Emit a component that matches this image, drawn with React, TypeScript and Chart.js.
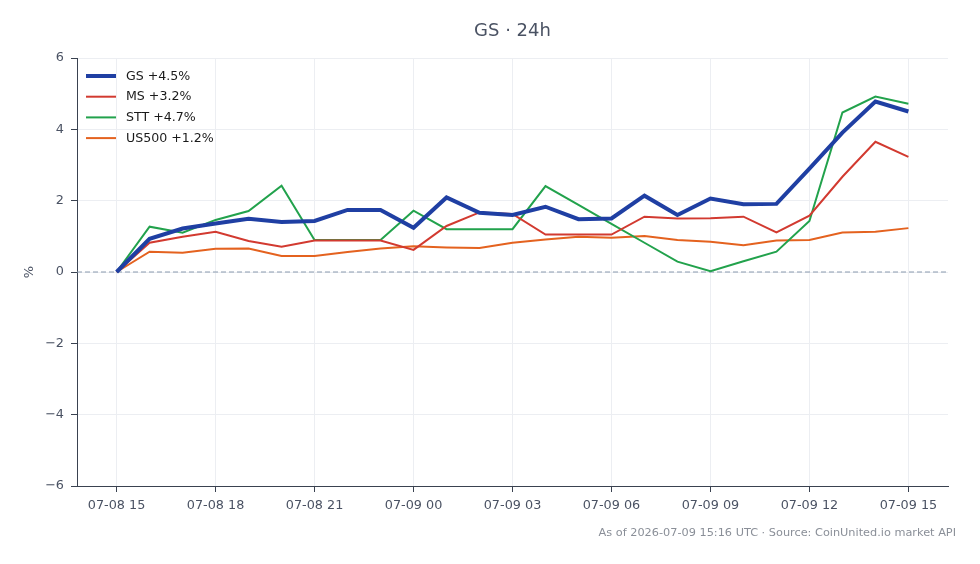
import React, { useEffect, useRef } from "react";
import { Chart, registerables } from "chart.js";

Chart.register(...registerables);

const timeLabels = [
  "07-08 15", "07-08 16", "07-08 17", "07-08 18", "07-08 19", "07-08 20", "07-08 21", "07-08 22", "07-08 23",
  "07-09 00", "07-09 01", "07-09 02", "07-09 03", "07-09 04", "07-09 05", "07-09 06", "07-09 07", "07-09 08",
  "07-09 09", "07-09 10", "07-09 11", "07-09 12", "07-09 13", "07-09 14", "07-09 15",
];
const xTickLabels = ["07-08 15", "07-08 18", "07-08 21", "07-09 00", "07-09 03", "07-09 06", "07-09 09", "07-09 12", "07-09 15"];
const yTicks = [-6, -4, -2, 0, 2, 4, 6];

const gsValues = [0, 0.93, 1.22, 1.36, 1.49, 1.4, 1.43, 1.74, 1.74, 1.24, 2.09, 1.66, 1.6, 1.83, 1.48, 1.5, 2.14, 1.6, 2.06, 1.9, 1.91, 2.9, 3.91, 4.78, 4.5];
const msValues = [0, 0.82, 0.99, 1.13, 0.87, 0.71, 0.88, 0.88, 0.88, 0.62, 1.29, 1.67, 1.63, 1.05, 1.05, 1.05, 1.55, 1.5, 1.51, 1.55, 1.11, 1.58, 2.67, 3.65, 3.23];
const sttValues = [0, 1.27, 1.1, 1.46, 1.71, 2.42, 0.9, 0.9, 0.9, 1.72, 1.2, 1.2, 1.2, 2.41, 1.88, 1.35, 0.82, 0.29, 0.02, 0.3, 0.57, 1.43, 4.47, 4.92, 4.72];
const us500Values = [0, 0.57, 0.54, 0.65, 0.66, 0.45, 0.45, 0.56, 0.66, 0.72, 0.69, 0.67, 0.82, 0.91, 0.99, 0.96, 1.01, 0.9, 0.85, 0.75, 0.88, 0.9, 1.11, 1.13, 1.23];

const seriesNames = ["GS +4.5%", "MS +3.2%", "STT +4.7%", "US500 +1.2%"];
const seriesColors = ["#1f3fa3", "#d23a30", "#22a24c", "#e4621f"];
const seriesWidths = [4, 2, 2, 2];

const titleText = "GS · 24h";
const footerText = "As of 2026-07-09 15:16 UTC · Source: CoinUnited.io market API";
const FONT = "'DejaVu Sans', sans-serif";

export default function App() {
  const ref = useRef<HTMLCanvasElement | null>(null);

  useEffect(() => {
    if (!ref.current) return;
    const allSeries = [gsValues, msValues, sttValues, us500Values];
    const zeroLine = {
      id: "zeroLine",
      beforeDatasetsDraw(chart: any) {
        const { ctx, chartArea, scales } = chart;
        const y = scales.y.getPixelForValue(0);
        ctx.save();
        ctx.strokeStyle = "#8a9aae";
        ctx.lineWidth = 1;
        ctx.setLineDash([5, 3]);
        ctx.beginPath();
        ctx.moveTo(chartArea.left, y);
        ctx.lineTo(chartArea.right, y);
        ctx.stroke();
        ctx.restore();
      },
    };
    const texts = {
      id: "texts",
      afterDraw(chart: any) {
        const { ctx, chartArea } = chart;
        ctx.save();
        // title
        ctx.font = `18px ${FONT}`;
        ctx.fillStyle = "#4a5263";
        ctx.textAlign = "center";
        ctx.textBaseline = "middle";
        ctx.fillText(titleText, (chartArea.left + chartArea.right) / 2, 31);
        // footer
        ctx.font = `11.3px ${FONT}`;
        ctx.fillStyle = "#8a8f98";
        ctx.textAlign = "right";
        ctx.fillText(footerText, chart.width - 24, 533);
        // legend
        ctx.font = `12.6px ${FONT}`;
        ctx.textAlign = "left";
        chart.data.datasets.forEach((ds: any, i: number) => {
          const y = chartArea.top + 18 + i * 20.7;
          ctx.strokeStyle = ds.borderColor;
          ctx.lineWidth = ds.borderWidth;
          ctx.beginPath();
          ctx.moveTo(chartArea.left + 9, y);
          ctx.lineTo(chartArea.left + 39, y);
          ctx.stroke();
          ctx.fillStyle = "#1a1a1a";
          ctx.fillText(ds.label, chartArea.left + 49, y + 0.5);
        });
        ctx.restore();
      },
    };
    const chart = new Chart(ref.current, {
      type: "line",
      data: {
        datasets: allSeries.map((vals, s) => ({
          label: seriesNames[s],
          data: vals.map((v, i) => ({ x: i, y: v })),
          borderColor: seriesColors[s],
          backgroundColor: seriesColors[s],
          borderWidth: seriesWidths[s],
          pointRadius: 0,
          tension: 0,
          fill: false,
        })),
      },
      options: {
        animation: false,
        responsive: false,
        devicePixelRatio: 1,
        layout: { padding: { left: 0, right: 32, top: 58, bottom: 48 } },
        plugins: {
          title: { display: false },
          legend: { display: false },
          tooltip: { enabled: false },
        },
        scales: {
          x: {
            type: "linear",
            min: -1.2,
            max: 25.2,
            afterBuildTicks: (axis: any) => {
              axis.ticks = xTickLabels.map((lab) => ({ value: timeLabels.indexOf(lab) }));
            },
            afterFit: (s: any) => {
              s.height = 30;
            },
            ticks: {
              color: "#4a5263",
              font: { family: FONT, size: 12.8 },
              padding: 6,
              maxRotation: 0,
              autoSkip: false,
              callback: (v: any) => timeLabels[v as number] ?? "",
            },
            grid: { color: "#eceef2", tickColor: "#3a4250", tickLength: 6, drawTicks: true },
            border: { color: "#3a4250", width: 1 },
          },
          y: {
            min: -6,
            max: 6,
            afterBuildTicks: (axis: any) => {
              axis.ticks = yTicks.map((v) => ({ value: v }));
            },
            afterFit: (s: any) => {
              s.width = 77;
            },
            title: {
              display: true,
              text: "%",
              color: "#4a5263",
              font: { family: FONT, size: 13 },
              padding: { top: 22, bottom: 0 },
            },
            ticks: {
              color: "#4a5263",
              font: { family: FONT, size: 12.8 },
              padding: 7,
              callback: (v: any) => (v < 0 ? "\u2212" + Math.abs(v) : String(v)),
            },
            grid: { color: "#eceef2", tickColor: "#3a4250", tickLength: 6, drawTicks: true },
            border: { color: "#3a4250", width: 1 },
          },
        },
      } as any,
      plugins: [zeroLine, texts],
    });
    return () => chart.destroy();
  }, []);

  return (
    <div style={{ position: "fixed", left: 0, top: 0, width: 980, height: 564, background: "#fff" }}>
      <canvas ref={ref} width={980} height={564} style={{ width: 980, height: 564, display: "block" }} />
    </div>
  );
}
